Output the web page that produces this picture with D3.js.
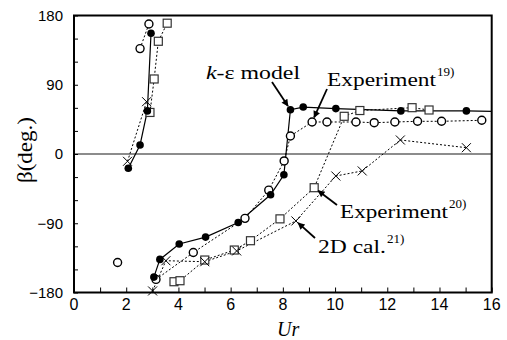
<!DOCTYPE html>
<html><head><meta charset="utf-8">
<script src="https://cdn.jsdelivr.net/npm/d3@7"></script>
<style>html,body{margin:0;padding:0;background:#fff;}
.serif{font-family:'Times New Roman','Liberation Serif','Tinos','Nimbus Roman','FreeSerif','Noto Serif','DejaVu Serif',serif;}
.sans{font-family:'Liberation Sans','Arial',sans-serif;}
</style>
</head><body>
<svg id="c" width="507" height="340"></svg>
<script>
// ---------- data (Ur, beta in degrees) ----------
const keUpperX = [2.08, 2.53, 2.81, 2.95];
const keUpperY = [-18.6, 11.7, 56, 157];
const keMainX  = [3.06, 3.29, 4.03, 5.04, 6.29, 7.53, 8.04, 8.29, 8.78, 10.03, 12.52, 15.03];
const keMainY  = [-160, -137, -117, -108, -89, -53, -27, 57.6, 61, 59, 56, 56];
const keTailX  = [15.03, 16];
const keTailY  = [56, 55.5];

const exp19UpperX = [2.53, 2.87];
const exp19UpperY = [137, 169];
const exp19LoneX  = [1.67];
const exp19LoneY  = [-141];
const exp19MainX  = [3.14, 4.57, 6.55, 7.46, 8.05, 8.29, 9.12, 9.69, 10.8, 11.5, 12.29, 13.16, 14.08, 15.62];
const exp19MainY  = [-163, -128, -83.6, -47, -9, 23.4, 41.6, 41.6, 41.6, 40.7, 41.6, 42.5, 42.5, 43.8];

const exp20UpperX = [2.91, 3.07, 3.23, 3.57];
const exp20UpperY = [54, 97.5, 146.5, 170];
const exp20MainX  = [3.83, 4.06, 5.01, 6.14, 6.76, 7.89, 9.2, 10.35, 10.95, 12.95, 13.6];
const exp20MainY  = [-166, -164.7, -137.8, -124.8, -112.7, -84.3, -43.8, 49, 56.5, 60.2, 57.2];

const calUpperX = [2.05, 2.78];
const calUpperY = [-9.5, 68];
const calMainX  = [3.01, 3.52, 5.01, 6.23, 8.5, 10.03, 11.04, 12.5, 15.03];
const calMainY  = [-178, -138.7, -140, -126, -87, -28.6, -22, 18.2, 8.2];

const xTicks = [0, 2, 4, 6, 8, 10, 12, 14, 16];
const yTicks = [-180, -90, 0, 90, 180];

// ---------- layout ----------
const svg = d3.select("#c");
const X0 = 74, X1 = 491.7, Y0 = 292.5, Y1 = 15.5;
const x = d3.scaleLinear().domain([0, 16]).range([X0, X1]);
const y = d3.scaleLinear().domain([-180, 180]).range([Y0, Y1]);
const zip = (a, b) => a.map((v, i) => [v, b[i]]);
const line = d3.line().x(d => x(d[0])).y(d => y(d[1]));

// zero line
svg.append("line").attr("x1", X0).attr("x2", X1).attr("y1", y(0)).attr("y2", y(0))
  .attr("stroke", "#666").attr("stroke-width", 1.4);

// axes (ticks inward)
const xAxis = d3.axisBottom(x).tickValues(d3.range(0, 17, 1)).tickSize(-5).tickFormat("");
const gx = svg.append("g").attr("transform", `translate(0,${Y0})`).call(xAxis);
const yAxis = d3.axisLeft(y).tickValues(d3.range(-180, 181, 30)).tickSize(-4).tickFormat("");
const gy = svg.append("g").attr("transform", `translate(${X0},0)`).call(yAxis);
[gx, gy].forEach(g => { g.select(".domain").remove(); g.selectAll("line").attr("stroke", "#000").attr("stroke-width", 1); });

svg.append("rect").attr("x", X0).attr("y", Y1).attr("width", X1 - X0).attr("height", Y0 - Y1)
  .attr("fill", "none").attr("stroke", "#000").attr("stroke-width", 2);

// tick labels
svg.append("g").selectAll("text").data(xTicks).join("text").attr("class", "sans")
  .attr("x", d => x(d)).attr("y", 310).attr("text-anchor", "middle")
  .attr("font-size", 16).text(d => d);
svg.append("g").selectAll("text").data(yTicks).join("text").attr("class", "sans")
  .attr("x", 63).attr("y", d => y(d)).attr("dy", "0.36em").attr("text-anchor", "end")
  .attr("font-size", 15)
  .text(d => d < 0 ? "\u2212" + Math.abs(d) : d);

// axis titles
svg.append("text").attr("class", "serif").attr("x", x(8.2)).attr("y", 336).attr("text-anchor", "middle")
  .attr("font-style", "italic").attr("font-size", 20).text("Ur");
svg.append("text").attr("class", "serif").attr("transform", "translate(32,150) rotate(-90)").attr("text-anchor", "middle")
  .attr("font-size", 20).attr("textLength", 66).attr("lengthAdjust", "spacingAndGlyphs").text("β(deg.)");

// ---------- series lines ----------
const dotted = "2,2";
[[exp19UpperX, exp19UpperY], [exp19MainX, exp19MainY],
 [exp20UpperX, exp20UpperY], [exp20MainX, exp20MainY],
 [calUpperX, calUpperY], [calMainX, calMainY]].forEach(([a, b]) => {
  svg.append("path").attr("d", line(zip(a, b))).attr("fill", "none")
    .attr("stroke", "#000").attr("stroke-width", 1).attr("stroke-dasharray", dotted);
});
[[keUpperX, keUpperY], [keMainX, keMainY], [keTailX, keTailY]].forEach(([a, b]) => {
  svg.append("path").attr("d", line(zip(a, b))).attr("fill", "none")
    .attr("stroke", "#000").attr("stroke-width", 1.2);
});

// ---------- markers ----------
const cross = (g, pts) => {
  g.selectAll("path.x").data(pts).join("path").attr("class", "x")
    .attr("d", d => { const cx = x(d[0]), cy = y(d[1]), s = 4.5;
      return `M${cx - s},${cy - s}L${cx + s},${cy + s}M${cx - s},${cy + s}L${cx + s},${cy - s}`; })
    .attr("stroke", "#000").attr("stroke-width", 1).attr("fill", "none");
};
const gm = svg.append("g");
gm.append("g").selectAll("rect").data(zip(exp20UpperX, exp20UpperY).concat(zip(exp20MainX, exp20MainY)))
  .join("rect").attr("x", d => x(d[0]) - 4).attr("y", d => y(d[1]) - 4)
  .attr("width", 8).attr("height", 8).attr("fill", "#fff").attr("stroke", "#333").attr("stroke-width", 1.2);
cross(gm.append("g"), zip(calUpperX, calUpperY).concat(zip(calMainX, calMainY)));
gm.append("g").selectAll("circle").data(zip(exp19UpperX, exp19UpperY).concat(zip(exp19LoneX, exp19LoneY), zip(exp19MainX, exp19MainY)))
  .join("circle").attr("cx", d => x(d[0])).attr("cy", d => y(d[1])).attr("r", 4)
  .attr("fill", "#fff").attr("stroke", "#000").attr("stroke-width", 1.4);
gm.append("g").selectAll("circle").data(zip(keUpperX, keUpperY).concat(zip(keMainX, keMainY)))
  .join("circle").attr("cx", d => x(d[0])).attr("cy", d => y(d[1])).attr("r", 3.8).attr("fill", "#000");

// ---------- annotations ----------
const defs = svg.append("defs");
defs.append("marker").attr("id", "ah").attr("viewBox", "0 0 10 10").attr("refX", 9).attr("refY", 5)
  .attr("markerWidth", 9).attr("markerHeight", 7).attr("markerUnits", "userSpaceOnUse").attr("orient", "auto")
  .append("path").attr("d", "M0,0L10,5L0,10z").attr("fill", "#000");
function arrow(x1, y1, pt, back) {
  const tx = x(pt[0]), ty = y(pt[1]);
  const dx = tx - x1, dy = ty - y1, L = Math.hypot(dx, dy);
  svg.append("line").attr("x1", x1).attr("y1", y1)
    .attr("x2", tx - dx / L * back).attr("y2", ty - dy / L * back)
    .attr("stroke", "#000").attr("stroke-width", 1.8).attr("marker-end", "url(#ah)");
}
function label(tx, ty, main, sup, w, italicK) {
  const t = svg.append("text").attr("class", "serif").attr("x", tx).attr("y", ty).attr("font-size", 18.5)
    .attr("textLength", w).attr("lengthAdjust", "spacingAndGlyphs");
  if (italicK) { t.append("tspan").attr("font-style", "italic").text("k"); t.append("tspan").text("-ε model"); }
  else t.text(main);
  if (sup) svg.append("text").attr("class", "serif").attr("x", tx + w + 1).attr("y", ty - 10)
    .attr("font-size", 13).text(sup);
}
label(206, 79, "", null, 94, true);
label(327, 86, "Experiment", "19)", 109);
label(340, 218, "Experiment", "20)", 108);
label(318, 253, "2D cal.", "21)", 68);

arrow(272, 82, [keMainX[7], keMainY[7]], 4.5);
arrow(327, 89, [exp19MainX[6], exp19MainY[6]], 5);
arrow(337, 205, [exp20MainX[6], exp20MainY[6]], 5);
arrow(315, 238, [calMainX[4], calMainY[4]], 3);
</script>
</body></html>
